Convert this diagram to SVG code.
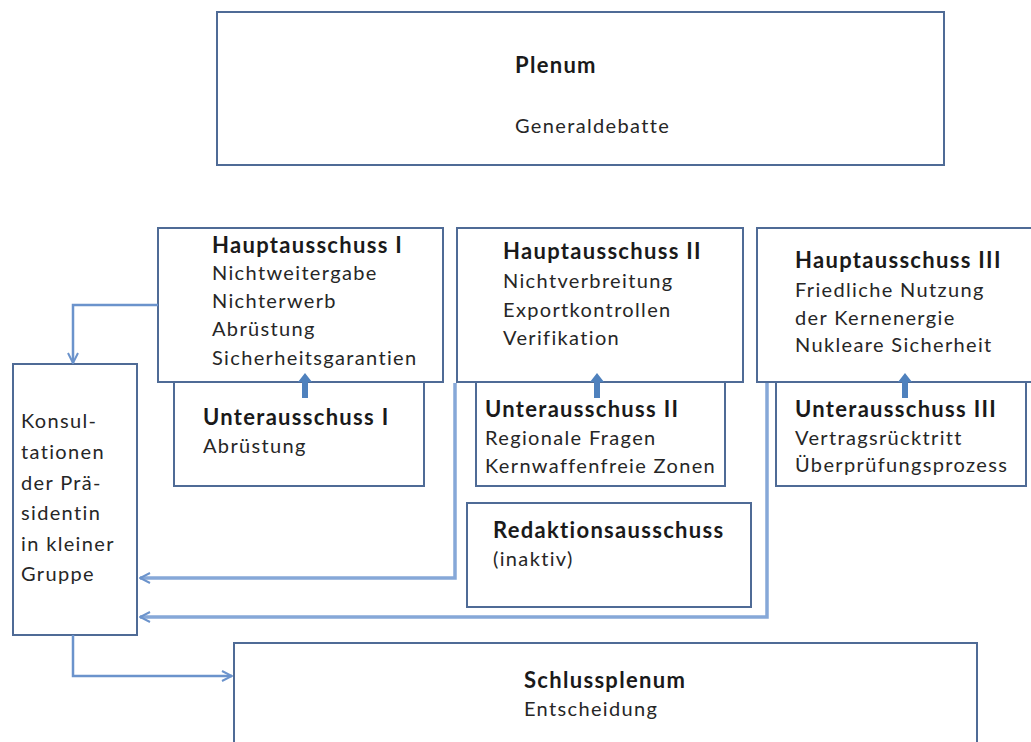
<svg xmlns="http://www.w3.org/2000/svg" width="1031" height="742" viewBox="0 0 1031 742">
<defs>
<style>
.box{fill:#fff;stroke:#4f6b96;stroke-width:2}
.t{font-family:Lato,"Liberation Sans",sans-serif;font-size:20px;letter-spacing:1.35px;fill:#262626}
.b{font-family:Lato,"Liberation Sans",sans-serif;font-size:22px;letter-spacing:1.3px;font-weight:bold;fill:#1a1a1a}
.con{fill:none;stroke:#6b93cc;stroke-width:2.5}
.con2{fill:none;stroke:#86a8d8;stroke-width:3.5}
.blk{fill:#4f81bd}
</style>
<marker id="ah" viewBox="0 0 12 12" refX="11" refY="6" markerWidth="12" markerHeight="12" markerUnits="userSpaceOnUse" orient="auto">
<path d="M1,1 L11,6 L1,11" fill="none" stroke="#6b93cc" stroke-width="2"/>
</marker>
</defs>
<rect width="1031" height="742" fill="#fff"/>

<g id="plenum">
<rect class="box" x="217" y="12" width="727" height="153"/>
<text class="b" x="515" y="73">Plenum</text>
<text class="t" x="515" y="133">Generaldebatte</text>
</g>

<g id="unterausschuss1">
<rect class="box" x="174" y="382" width="250" height="104"/>
<text class="b" x="203" y="425">Unterausschuss I</text>
<text class="t" x="203" y="453">Abrüstung</text>
</g>
<g id="unterausschuss2">
<rect class="box" x="476" y="382" width="249" height="104"/>
<text class="b" x="485" y="417">Unterausschuss II</text>
<text class="t" x="485" y="445">Regionale Fragen</text>
<text class="t" x="485" y="473">Kernwaffenfreie Zonen</text>
</g>
<g id="unterausschuss3">
<rect class="box" x="776" y="382" width="250" height="104"/>
<text class="b" x="795" y="417">Unterausschuss III</text>
<text class="t" x="795" y="445">Vertragsrücktritt</text>
<text class="t" x="795" y="472">Überprüfungsprozess</text>
</g>

<g id="hauptausschuss1">
<rect class="box" x="158" y="228" width="285" height="154"/>
<text class="b" x="212" y="253">Hauptausschuss I</text>
<text class="t" x="212" y="280">Nichtweitergabe</text>
<text class="t" x="212" y="308">Nichterwerb</text>
<text class="t" x="212" y="336">Abrüstung</text>
<text class="t" x="212" y="365">Sicherheitsgarantien</text>
</g>
<g id="hauptausschuss2">
<rect class="box" x="457" y="228" width="286" height="154"/>
<text class="b" x="503" y="259">Hauptausschuss II</text>
<text class="t" x="503" y="288">Nichtverbreitung</text>
<text class="t" x="503" y="317">Exportkontrollen</text>
<text class="t" x="503" y="345">Verifikation</text>
</g>
<g id="hauptausschuss3">
<rect class="box" x="757" y="228" width="284" height="154"/>
<text class="b" x="795" y="268">Hauptausschuss III</text>
<text class="t" x="795" y="297">Friedliche Nutzung</text>
<text class="t" x="795" y="325">der Kernenergie</text>
<text class="t" x="795" y="352">Nukleare Sicherheit</text>
</g>

<g id="redaktionsausschuss">
<rect class="box" x="467" y="503" width="284" height="104"/>
<text class="b" x="493" y="538">Redaktionsausschuss</text>
<text class="t" x="493" y="566">(inaktiv)</text>
</g>

<g id="konsultationen">
<rect class="box" x="13" y="364" width="124" height="271"/>
<text class="t" x="21" y="428">Konsul-</text>
<text class="t" x="21" y="459">tationen</text>
<text class="t" x="21" y="490">der Prä-</text>
<text class="t" x="21" y="520">sidentin</text>
<text class="t" x="21" y="551">in kleiner</text>
<text class="t" x="21" y="581">Gruppe</text>
</g>

<g id="schlussplenum">
<rect class="box" x="234" y="643" width="743" height="110"/>
<text class="b" x="524" y="688">Schlussplenum</text>
<text class="t" x="524" y="716">Entscheidung</text>
</g>

<g id="connectors">
<path class="con" d="M158,305 H73 V363" marker-end="url(#ah)"/>
<path class="con2" d="M455,383 V578 H140" marker-end="url(#ah)"/>
<path class="con2" d="M767,383 V617 H140" marker-end="url(#ah)"/>
<path class="con" d="M73,635 V676 H232" marker-end="url(#ah)"/>
<path class="blk" d="M302,398 V382 H298 L305,373 L312,382 H308 V398 Z"/>
<path class="blk" d="M594,398 V382 H590 L597,373 L604,382 H600 V398 Z"/>
<path class="blk" d="M902,398 V382 H898 L905,373 L912,382 H908 V398 Z"/>
</g>
</svg>
